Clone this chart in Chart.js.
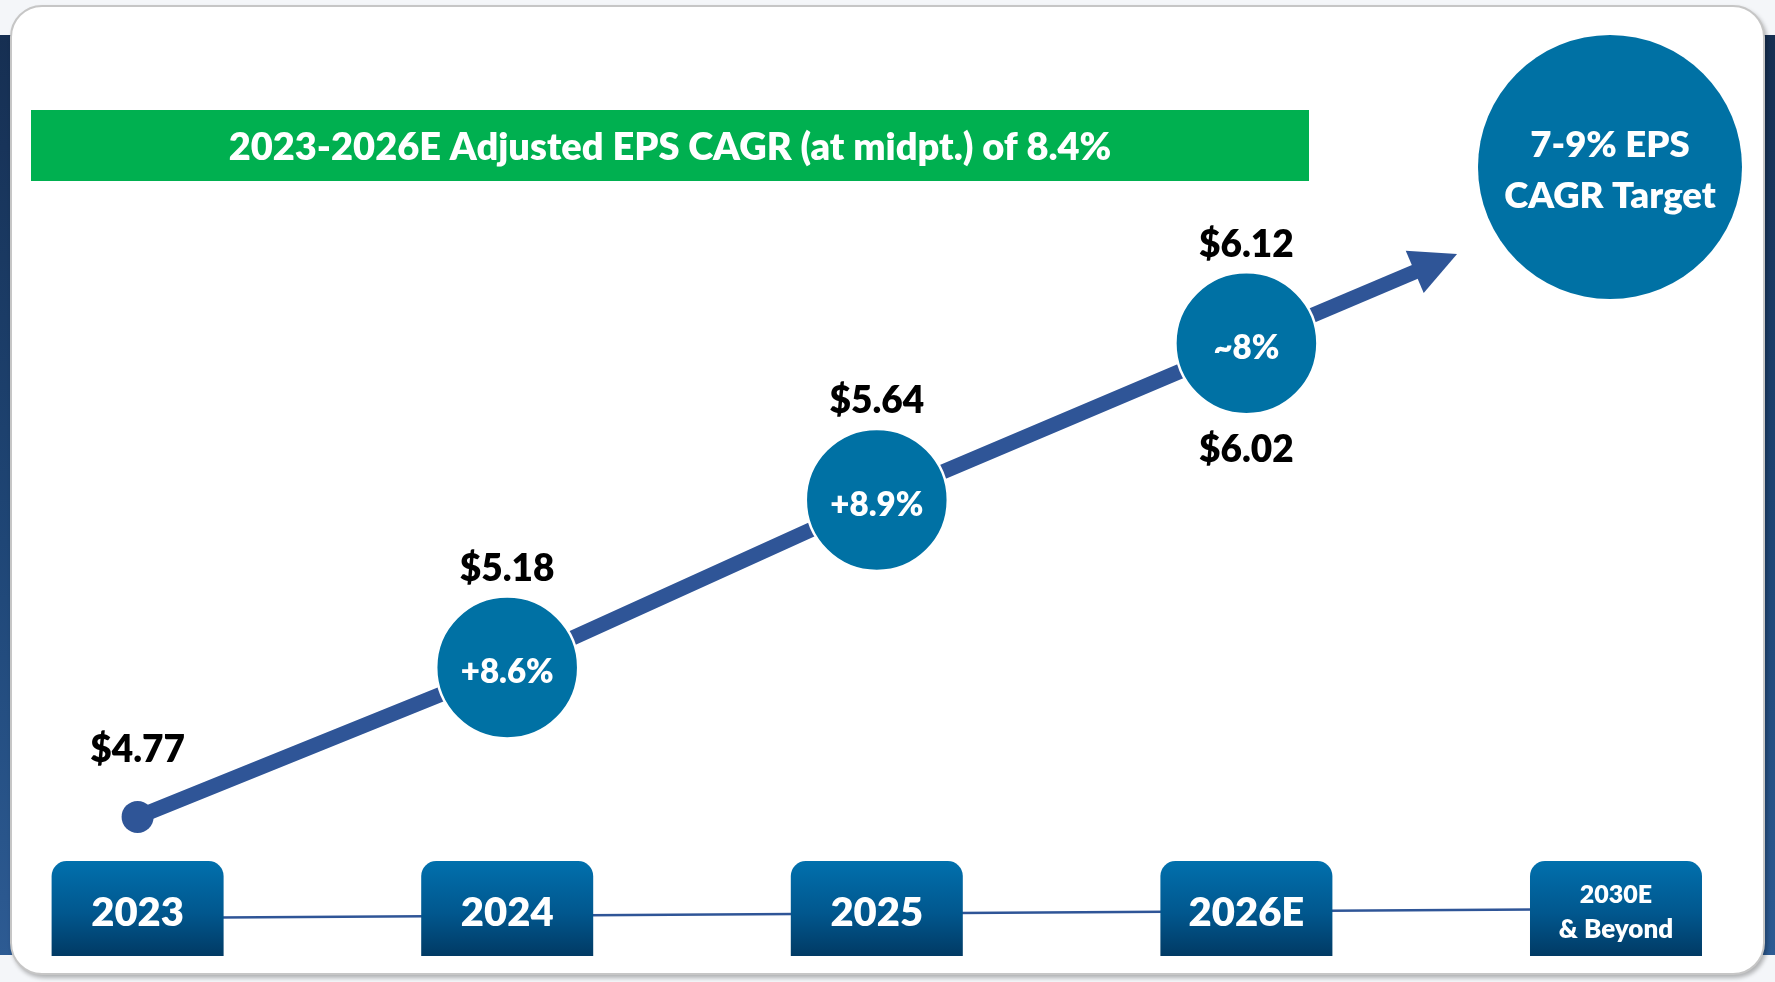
<!DOCTYPE html>
<html>
<head>
<meta charset="utf-8">
<script src="https://cdn.jsdelivr.net/npm/chart.js@4.4.1/dist/chart.umd.min.js"></script>
<style>
  html, body { margin: 0; padding: 0; }
  body { width: 1775px; height: 982px; overflow: hidden; position: relative; background: #f4f6f9; }
  #band { position: absolute; left: 0; top: 35px; width: 1775px; height: 920px;
          background: linear-gradient(180deg, #162f52 0%, #1f4676 55%, #2d5b93 100%); }
  #card { position: absolute; left: 10px; top: 5px; width: 1751px; height: 966px;
          background: #ffffff; border: 2px solid #c6c6c6; border-radius: 32px;
          box-shadow: 2px 3px 4px rgba(0,0,0,0.28); }
  #c { position: absolute; left: 0; top: 0; }
</style>
</head>
<body>
<div id="band"></div>
<div id="card"></div>
<canvas id="c" width="1775" height="982"></canvas>
<script>
// ---- data ----
const categories = ['2023', '2024', '2025', '2026E', '2030E\n& Beyond'];
const epsLow  = [4.77, 5.18, 5.64, 6.02];
const epsHigh = [4.77, 5.18, 5.64, 6.12];
const growthLabels = [null, '+8.6%', '+8.9%', '~8%'];
const bannerText = '2023-2026E Adjusted EPS CAGR (at midpt.) of 8.4%';
const targetText = ['7-9% EPS', 'CAGR Target'];

// ---- derived ----
const epsMid = epsLow.map((v, i) => (v + epsHigh[i]) / 2);
const linePoints = epsMid.map((v, i) => ({ x: i, y: v }));
const circlePoints = epsMid.map((v, i) => ({ x: i, y: v })).filter((p, i) => growthLabels[i] !== null);

const FONT = 'Lato, "Open Sans", sans-serif';
const NAVY = '#2f5597';
const TEAL = '#0071a4';

function capText(ctx, text, x, capCenterY, size, color) {
  ctx.font = '800 ' + size + 'px ' + FONT;
  ctx.fillStyle = color;
  ctx.textAlign = 'center';
  ctx.textBaseline = 'alphabetic';
  ctx.fillText(text, x, capCenterY + 0.36 * size);
}

const decorPlugin = {
  id: 'decor',
  beforeDatasetsDraw(chart) {
    const ctx = chart.ctx;
    const xs = chart.scales.x, ys = chart.scales.y;
    ctx.save();
    // banner
    ctx.fillStyle = '#00b050';
    ctx.fillRect(31, 110, 1278, 71);
    capText(ctx, bannerText, 31 + 1278 / 2, 146, 38, '#ffffff');

    // timeline line
    const bx = categories.map((c, i) => xs.getPixelForValue(i));
    ctx.strokeStyle = NAVY;
    ctx.lineWidth = 2.5;
    ctx.beginPath();
    ctx.moveTo(bx[0], 918);
    ctx.lineTo(bx[bx.length - 1], 909);
    ctx.stroke();

    // year boxes
    const bw = 172, bh = 95, top = 861;
    categories.forEach((c, i) => {
      const x0 = bx[i] - bw / 2;
      const g = ctx.createLinearGradient(0, top, 0, top + bh);
      g.addColorStop(0, '#0170ad');
      g.addColorStop(0.55, '#01578e');
      g.addColorStop(1, '#013a64');
      ctx.fillStyle = g;
      ctx.beginPath();
      ctx.roundRect(x0, top, bw, bh, [15, 15, 0, 0]);
      ctx.fill();
      const lines = c.split('\n');
      if (lines.length === 1) {
        capText(ctx, lines[0], bx[i], 912, 40, '#ffffff');
      } else {
        capText(ctx, lines[0], bx[i], 894, 25, '#ffffff');
        capText(ctx, lines[1], bx[i], 929, 26, '#ffffff');
      }
    });

    // big target circle
    const tx = bx[bx.length - 1] - 6, ty = 167;
    ctx.fillStyle = TEAL;
    ctx.beginPath();
    ctx.arc(tx, ty, 132, 0, Math.PI * 2);
    ctx.fill();
    capText(ctx, targetText[0], tx, 144, 36.5, '#ffffff');
    capText(ctx, targetText[1], tx, 195, 36.5, '#ffffff');

    // arrow extension beyond last data point
    const n = linePoints.length;
    const p2x = xs.getPixelForValue(linePoints[n - 2].x), p2y = ys.getPixelForValue(linePoints[n - 2].y);
    const p3x = xs.getPixelForValue(linePoints[n - 1].x), p3y = ys.getPixelForValue(linePoints[n - 1].y);
    const dx = p3x - p2x, dy = p3y - p2y;
    const len = Math.hypot(dx, dy);
    const ux = dx / len, uy = dy / len;
    const tipX = p3x + dx * 0.57, tipY = p3y + dy * 0.57;
    const headLen = 46, headHalf = 23;
    const baseX = tipX - ux * headLen, baseY = tipY - uy * headLen;
    ctx.strokeStyle = NAVY;
    ctx.lineWidth = 15;
    ctx.lineCap = 'butt';
    ctx.beginPath();
    ctx.moveTo(p3x, p3y);
    ctx.lineTo(baseX + ux * 4, baseY + uy * 4);
    ctx.stroke();
    ctx.fillStyle = NAVY;
    ctx.beginPath();
    ctx.moveTo(tipX, tipY);
    ctx.lineTo(baseX - uy * headHalf, baseY + ux * headHalf);
    ctx.lineTo(baseX + uy * headHalf, baseY - ux * headHalf);
    ctx.closePath();
    ctx.fill();
    ctx.restore();
  },
  afterDatasetsDraw(chart) {
    const ctx = chart.ctx;
    const xs = chart.scales.x, ys = chart.scales.y;
    ctx.save();
    epsMid.forEach((v, i) => {
      const px = xs.getPixelForValue(i);
      const py = ys.getPixelForValue(v);
      if (growthLabels[i] === null) {
        capText(ctx, '$' + epsHigh[i].toFixed(2), px, py - 68, 37, '#000000');
      } else {
        capText(ctx, '$' + epsHigh[i].toFixed(2), px, py - 100, 37, '#000000');
        if (epsLow[i] !== epsHigh[i]) {
          capText(ctx, '$' + epsLow[i].toFixed(2), px, py + 105, 37, '#000000');
        }
        capText(ctx, growthLabels[i], px, py + 4, 33, '#ffffff');
      }
    });
    ctx.restore();
  }
};

function build() {
  new Chart(document.getElementById('c'), {
    type: 'line',
    data: {
      datasets: [
        {
          data: circlePoints,
          showLine: false,
          pointRadius: 71,
          pointHoverRadius: 71,
          pointBackgroundColor: TEAL,
          pointBorderColor: '#ffffff',
          pointBorderWidth: 2.5,
          clip: false,
          order: 0
        },
        {
          data: linePoints,
          borderColor: NAVY,
          borderWidth: 15,
          tension: 0,
          pointRadius: linePoints.map((p, i) => i === 0 ? 16 : 0),
          pointBackgroundColor: NAVY,
          pointBorderWidth: 0,
          clip: false,
          order: 1
        }
      ]
    },
    options: {
      responsive: false,
      animation: false,
      devicePixelRatio: 1,
      layout: { padding: 0, autoPadding: false },
      plugins: { legend: { display: false }, tooltip: { enabled: false } },
      events: [],
      scales: {
        x: { type: 'linear', display: false, min: -0.3723, max: 4.4302 },
        y: { type: 'linear', display: false, min: 4.317, max: 7.012 }
      }
    },
    plugins: [decorPlugin]
  });
}
if (document.fonts && document.fonts.load) {
  Promise.all([document.fonts.load('800 36px Lato')]).then(build, build);
} else { build(); }
</script>
</body>
</html>
